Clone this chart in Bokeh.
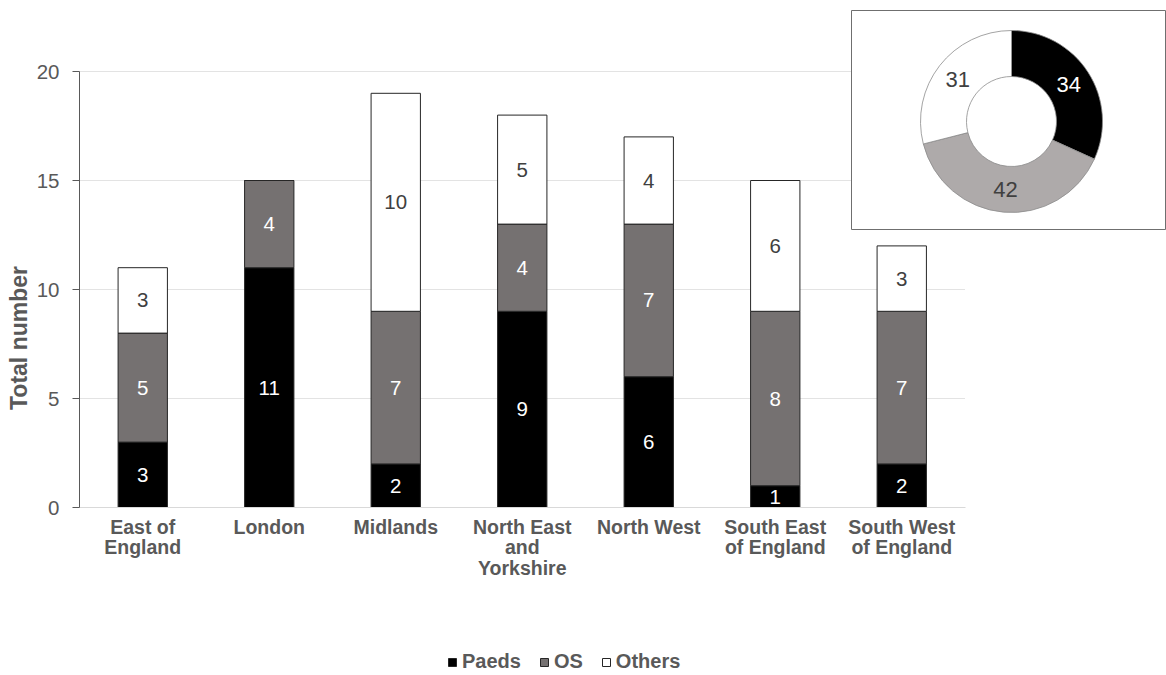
import math
from bokeh.plotting import figure
from bokeh.models import (ColumnDataSource, Range1d, FixedTicker, LinearAxis,
                          Legend, LegendItem)
from bokeh.core.properties import value
from bokeh.embed import file_html
from bokeh.resources import INLINE

# ---------------- data ----------------
categories = ["East of England", "London", "Midlands", "North East and Yorkshire",
              "North West", "South East of England", "South West of England"]
tick_labels = ["East of\nEngland", "London", "Midlands", "North East\nand\nYorkshire",
               "North West", "South East\nof England", "South West\nof England"]
series_names = ["Paeds", "OS", "Others"]
paeds = [3, 11, 2, 9, 6, 1, 2]
os_vals = [5, 4, 7, 4, 7, 8, 7]
others = [3, 0, 10, 5, 4, 6, 3]
donut_values = [34, 42, 31]
y_ticks = [0, 5, 10, 15, 20]

# ---------------- styles ----------------
bar_fill = ["#000000", "#757171", "#ffffff"]
bar_text = ["#ffffff", "#ffffff", "#404040"]
donut_fill = ["#000000", "#aeaaaa", "#ffffff"]
donut_text = ["#ffffff", "#404040", "#404040"]
GRAY = "#595959"
FONT = "Liberation Sans"

W, H = 1166, 675
LEFT = 79
frame_w = W - LEFT
frame_h = H
PX_X = 126.5
PX_Y = 21.8
Y0 = 507  # pixels from frame top to y=0

n = len(categories)
p = figure(width=W, height=H, output_backend="svg", toolbar_location=None,
           x_range=Range1d(0, frame_w / PX_X),
           y_range=Range1d(-(frame_h - Y0) / PX_Y, Y0 / PX_Y),
           min_border_left=LEFT, min_border_right=0, min_border_top=0,
           min_border_bottom=0, x_axis_location=None, y_axis_location=None)
p.outline_line_color = None
p.background_fill_color = "white"
p.border_fill_color = "white"
p.xgrid.visible = False
p.ygrid.visible = False
p.extra_x_ranges = {"px": Range1d(0, frame_w)}
p.extra_y_ranges = {"py": Range1d(0, frame_h)}

# y axis
yaxis = LinearAxis(ticker=FixedTicker(ticks=y_ticks), bounds=(min(y_ticks), max(y_ticks)),
                   axis_label="Total number")
yaxis.axis_line_color = GRAY
yaxis.major_tick_line_color = GRAY
yaxis.major_tick_out = 7
yaxis.major_tick_in = 0
yaxis.minor_tick_line_color = None
yaxis.major_label_text_font = FONT
yaxis.major_label_text_font_size = "20.5px"
yaxis.major_label_text_color = GRAY
yaxis.major_label_standoff = 13
yaxis.axis_label_text_font = FONT
yaxis.axis_label_text_font_size = "23px"
yaxis.axis_label_text_font_style = "bold"
yaxis.axis_label_text_color = GRAY
yaxis.axis_label_standoff = 2
p.add_layout(yaxis, "left")

# x axis (drawn at y = 0)
xs = [i + 0.5 for i in range(n)]
xaxis = LinearAxis(ticker=FixedTicker(ticks=xs), fixed_location=0, bounds=(0, n))
xaxis.major_label_overrides = {x: lbl for x, lbl in zip(xs, tick_labels)}
xaxis.axis_line_color = "#d9d9d9"
xaxis.major_tick_line_color = None
xaxis.minor_tick_line_color = None
xaxis.major_label_text_font = FONT
xaxis.major_label_text_font_size = "19.5px"
xaxis.major_label_text_font_style = "bold"
xaxis.major_label_text_color = GRAY
xaxis.major_label_text_line_height = 0.95
xaxis.major_label_standoff = 2
p.add_layout(xaxis, "below")

# grid lines
gy = [t for t in y_ticks if t > 0]
p.segment(x0=[0] * len(gy), x1=[n] * len(gy), y0=gy, y1=gy,
          line_color="#e3e3e3", line_width=1)

# stacked bars
src = ColumnDataSource(dict(x=xs, Paeds=paeds, OS=os_vals, Others=others))
renderers = p.vbar_stack(series_names, x="x", width=0.39, source=src,
                         fill_color=bar_fill, line_color="#262626", line_width=1)

# bar labels
bottom = [0] * n
for vals, tc in zip([paeds, os_vals, others], bar_text):
    lx, ly, lt = [], [], []
    for i, v in enumerate(vals):
        if v > 0:
            lx.append(xs[i])
            ly.append(bottom[i] + v / 2)
            lt.append(str(v))
        bottom[i] += v
    p.text(x=lx, y=ly, text=lt, text_align="center", text_baseline="middle",
           text_font=value(FONT), text_font_size="20.5px", text_color=tc)

# inset box
bx0, bx1 = 772, 1086
by0, by1 = 446, 665
p.rect(x=[(bx0 + bx1) / 2], y=[(by0 + by1) / 2], width=[bx1 - bx0], height=[by1 - by0],
       fill_color="white", line_color="#6f6f6f", line_width=1,
       x_range_name="px", y_range_name="py")

# donut
cx, cy = 932, 554
r_in, r_out = 45, 91
total = sum(donut_values)
starts, ends, mx, my = [], [], [], []
cum = 0
for v in donut_values:
    a0 = math.pi / 2 - 2 * math.pi * cum / total
    cum += v
    a1 = math.pi / 2 - 2 * math.pi * cum / total
    starts.append(a0)
    ends.append(a1)
    mid = (a0 + a1) / 2
    rm = (r_in + r_out) / 2
    mx.append(cx + rm * math.cos(mid))
    my.append(cy + rm * math.sin(mid))
p.annular_wedge(x=[cx] * len(donut_values), y=[cy] * len(donut_values),
                inner_radius=r_in, outer_radius=r_out,
                start_angle=starts, end_angle=ends, direction="clock",
                fill_color=donut_fill, line_color="#8c8c8c", line_width=0.8,
                x_range_name="px", y_range_name="py")
p.text(x=mx, y=my, text=[str(v) for v in donut_values], text_align="center",
       text_baseline="middle", text_font=value(FONT), text_font_size="22px",
       text_color=donut_text, x_range_name="px", y_range_name="py")

# legend
legend = Legend(items=[LegendItem(label=nm, renderers=[r]) for nm, r in zip(series_names, renderers)],
                location=(368, 2), orientation="horizontal",
                glyph_width=10, glyph_height=10, label_standoff=5, spacing=18,
                padding=0, margin=0, background_fill_alpha=0, border_line_color=None,
                label_text_font=FONT, label_text_font_size="20px",
                label_text_font_style="bold", label_text_color=GRAY)
p.add_layout(legend)

open("out.html", "w").write(file_html(p, INLINE))
